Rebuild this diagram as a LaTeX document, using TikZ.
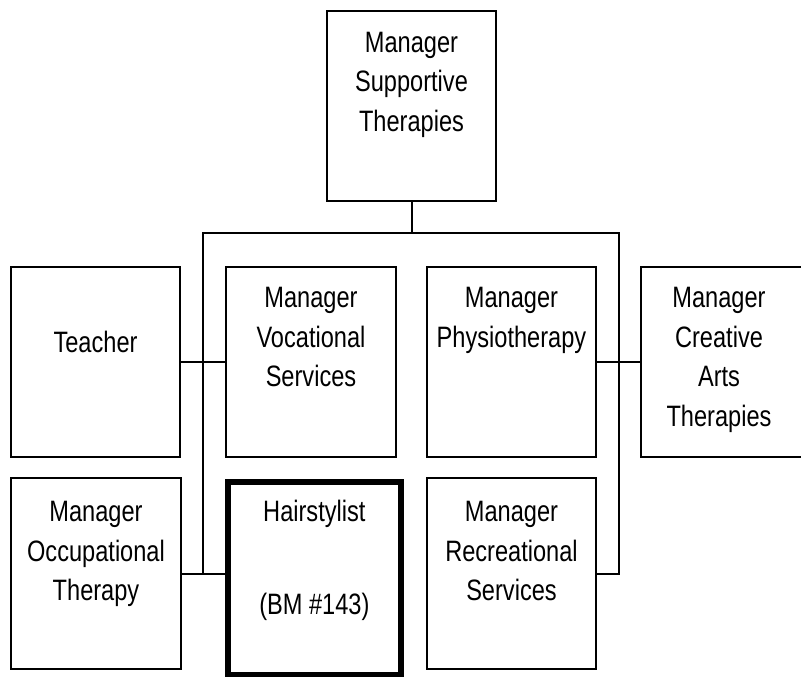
\documentclass[tikz,border=0pt]{standalone}
\usepackage{fontspec}
\setmainfont[FakeStretch=0.80]{Liberation Sans}
\begin{document}
\begin{tikzpicture}[x=1pt,y=-1pt,
  box/.style={draw=black,line width=2pt,fill=none,inner sep=0pt},
  thickbox/.style={draw=black,line width=6pt,inner sep=0pt},
  txt/.style={anchor=north,inner sep=0pt,align=center,font=\fontsize{29.5}{39.5}\selectfont},
  conn/.style={draw=black,line width=2pt}]
\useasboundingbox (0,0) rectangle (801,677);
\clip (0,0) rectangle (801,677);
% boxes
\node[box,minimum width=169pt,minimum height=190pt] (top) at (411.5,106) {};
\node[box,minimum width=169pt,minimum height=190pt] (teach) at (95.5,362) {};
\node[box,minimum width=170pt,minimum height=190pt] (voc) at (311,362) {};
\node[box,minimum width=169pt,minimum height=190pt] (phys) at (511.5,362) {};
\node[box,minimum width=170pt,minimum height=190pt] (crea) at (726,362) {};
\node[box,minimum width=170pt,minimum height=191pt] (occ) at (96,573.5) {};
\node[thickbox,minimum width=172.7pt,minimum height=192.5pt] (hair) at (314.35,578.25) {};
\node[box,minimum width=169pt,minimum height=191pt] (rec) at (511.5,573.5) {};
% texts
\node[txt] (ttop) at ([yshift=-22pt]top.north) {Manager\\Supportive\\Therapies};
\node[txt] (tteach) at ([yshift=-65pt]teach.north) {Teacher};
\node[txt] (tvoc) at ([yshift=-21.5pt]voc.north) {Manager\\Vocational\\Services};
\node[txt] (tphys) at ([yshift=-21.5pt]phys.north) {Manager\\Physiotherapy};
\node[txt] (tcrea) at ([yshift=-21.5pt,xshift=-7pt]crea.north) {Manager\\Creative\\Arts\\Therapies};
\node[txt] (tocc) at ([yshift=-24pt]occ.north) {Manager\\Occupational\\Therapy};
\node[txt] (thair) at ([yshift=-21pt]hair.north) {Hairstylist};
\node[txt] (tbm) at ([yshift=-114pt]hair.north) {(BM \#143)};
\node[txt] (trec) at ([yshift=-24pt]rec.north) {Manager\\Recreational\\Services};
% connectors
\coordinate (L) at (202.7,232.7);
\coordinate (R) at (619,232.7);
\coordinate (Lb) at (202.7,573.3);
\draw[conn] (top.south) -- (top.south |- L);
\draw[conn,line cap=rect] (L) -- (R);
\draw[conn] (L) -- (Lb);
\draw[conn] (R) |- (rec.east);
\draw[conn] (teach.east) -- (voc.west);
\draw[conn] (phys.east) -- (crea.west);
\draw[conn] (occ.east) -- (occ.east -| hair.west);
\end{tikzpicture}
\end{document}
